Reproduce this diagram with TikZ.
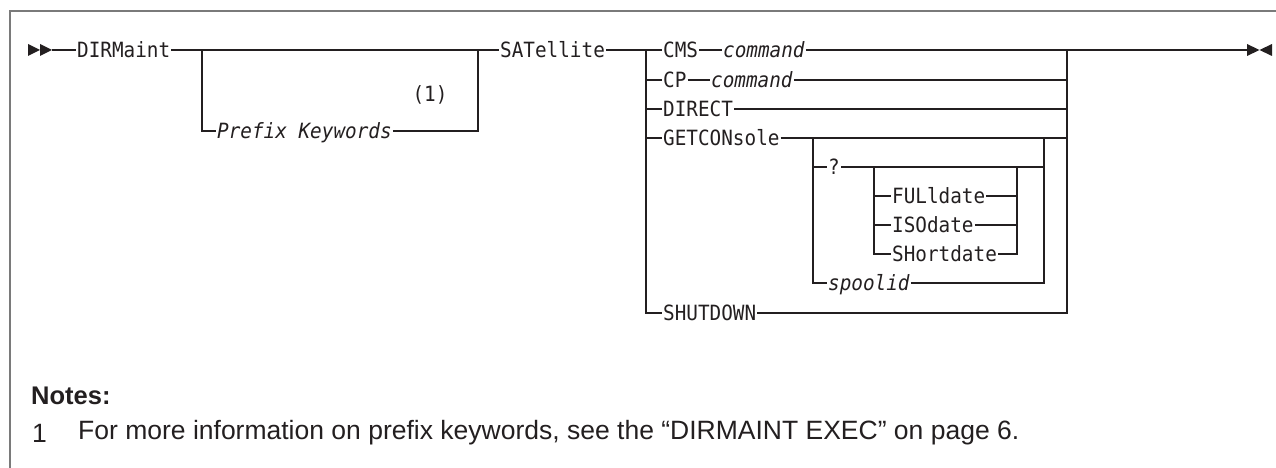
\documentclass[tikz,border=0pt]{standalone}
\usepackage{fontspec}
\setmainfont{Liberation Sans}
\newfontfamily\synfont[FakeStretch=0.92]{DejaVu Sans Mono}
\begin{document}
\begin{tikzpicture}[x=1pt,y=-1pt,
  syn/.style={font=\synfont\fontsize{21}{24}\selectfont, text=ink, inner xsep=1pt, inner ysep=0pt,
              text height=15.3pt, text depth=0pt, anchor=west},
  synit/.style={syn, font=\synfont\itshape\fontsize{21}{24}\selectfont},
  rail/.style={draw=ink, line width=1.3pt},
  frame/.style={draw=framegray, line width=1.8pt},
  notefont/.style={font=\fontsize{26.5}{30}\selectfont, text=ink, inner sep=0pt, anchor=west}]
\definecolor{ink}{HTML}{231F20}
\definecolor{framegray}{HTML}{7A7A7A}
\useasboundingbox (0,0) rectangle (1276,468);
% frame
\draw[frame] (10,468) -- (10,11) -- (1276,11);
% start arrows
\fill[ink] (28,44) -- (40,50) -- (28,56) -- cycle;
\fill[ink] (40,44) -- (52,50) -- (40,56) -- cycle;
\coordinate (st) at (52,50);
% end arrows
\fill[ink] (1247,44) -- (1259.5,50) -- (1247,56) -- cycle;
\fill[ink] (1272,44) -- (1259.5,50) -- (1272,56) -- cycle;
\coordinate (en) at (1248,50);
% nodes
\node[syn] (dirm) at (76,50) {DIRMaint};
\node[synit] (pk) at (216,131) {Prefix Keywords};
\node[syn, anchor=center] (n1) at (430,94) {(1)};
\node[syn] (sat) at (499,50) {SATellite};
\node[syn] (cms) at (662,50) {CMS};
\node[synit] (cmd1) at (722,50) {command};
\node[syn] (cp) at (662,80) {CP};
\node[synit] (cmd2) at (710,80) {command};
\node[syn] (direct) at (662,109) {DIRECT};
\node[syn] (getc) at (662,138) {GETCONsole};
\node[syn] (q) at (827,167) {?};
\node[syn] (ful) at (891,196) {FULldate};
\node[syn] (iso) at (891,225) {ISOdate};
\node[syn] (shd) at (891,254) {SHortdate};
\node[synit] (spool) at (827,283) {spoolid};
\node[syn] (shut) at (662,313) {SHUTDOWN};
% junctions
\coordinate (b1l) at (202,50);
\coordinate (b1r) at (478,50);
\coordinate (b2l) at (646,50);
\coordinate (b2r) at (1067,50);
\coordinate (b3l) at (813,138);
\coordinate (b3r) at (1044,138);
\coordinate (b4l) at (874,167);
\coordinate (b4r) at (1017,167);
% rails
\draw[rail] (st) -- (dirm.west);
\draw[rail] (dirm.east) -- (b1l) -- (b1r) -- (sat.west);
\draw[rail] (b1l) |- (pk.west);
\draw[rail] (pk.east) -| (b1r);
\draw[rail] (sat.east) -- (b2l) -- (cms.west);
\draw[rail] (cms.east) -- (cmd1.west);
\draw[rail] (cmd1.east) -- (b2r) -- (en);
\draw[rail] (b2l) |- (shut.west);
\draw[rail] (shut.east) -| (b2r);
\draw[rail] (b2l |- cp.west) -- (cp.west);
\draw[rail] (cp.east) -- (cmd2.west);
\draw[rail] (cmd2.east) -- (b2r |- cmd2.east);
\draw[rail] (b2l |- direct.west) -- (direct.west);
\draw[rail] (direct.east) -- (b2r |- direct.east);
\draw[rail] (b2l |- getc.west) -- (getc.west);
\draw[rail] (getc.east) -- (b3l) -- (b3r) -- (b2r |- b3r);
\draw[rail] (b3l) |- (spool.west);
\draw[rail] (spool.east) -| (b3r);
\draw[rail] (b3l |- q.west) -- (q.west);
\draw[rail] (q.east) -- (b4l) -- (b4r) -- (b3r |- b4r);
\draw[rail] (b4l) |- (shd.west);
\draw[rail] (shd.east) -| (b4r);
\draw[rail] (b4l |- ful.west) -- (ful.west);
\draw[rail] (ful.east) -- (b4r |- ful.east);
\draw[rail] (b4l |- iso.west) -- (iso.west);
\draw[rail] (iso.east) -- (b4r |- iso.east);
% small heavier dash after the right rail
\draw[draw=ink, line width=1.8pt] (1071,49.6) -- (1094,49.6);
% notes
\node[notefont, font=\bfseries\fontsize{25.5}{30}\selectfont] (notes) at (31,396) {Notes:};
\node[notefont] (num) at (32,433) {1};
\node[notefont] (note1) at (78,433) {For more information on prefix keywords, see the “DIRMAINT EXEC” on page 6.};
\end{tikzpicture}
\end{document}
